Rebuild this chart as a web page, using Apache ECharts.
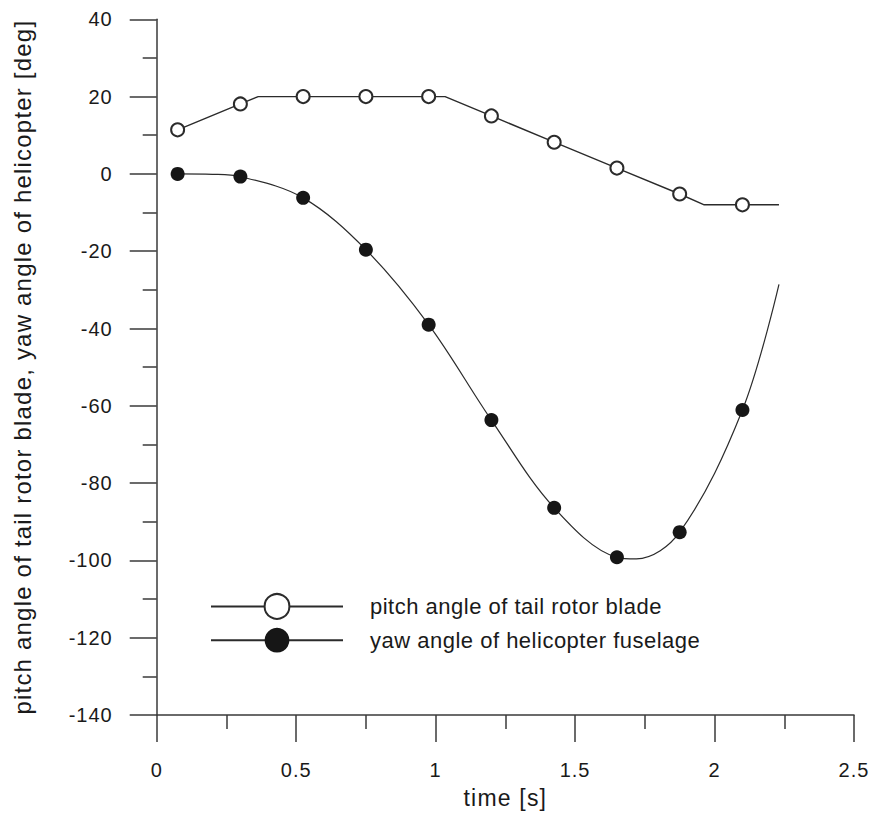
<!DOCTYPE html>
<html>
<head>
<meta charset="utf-8">
<script src="https://cdn.jsdelivr.net/npm/echarts@6/dist/echarts.min.js"></script>
<style>
  html, body { margin: 0; padding: 0; background: #fff; }
  #chart { width: 872px; height: 814px; }
</style>
</head>
<body>
<div id="chart"></div>
<script>
// Sample times where the markers sit [s]
const markerTimes = [0.075, 0.3, 0.525, 0.75, 0.975, 1.2, 1.425, 1.65, 1.875, 2.1];

// Pitch angle of tail rotor blade [deg] at the marker times
const pitchMarkers = [11.4, 18.1, 20, 20, 20, 15, 8.2, 1.5, -5.2, -8];
// Corner points of the piecewise-linear pitch schedule (no marker drawn)
const pitchKnotTimes = [0.364, 1.034, 1.963, 2.231];
const pitchKnotValues = [20, 20, -8, -8];

// Yaw angle of helicopter fuselage [deg] at the marker times
const yawMarkers = [0, -0.7, -6.2, -19.6, -39, -63.7, -86.4, -99.2, -92.7, -61.1];
// Extra points along the yaw curve (no marker drawn)
const yawCurveTimes = [0.2, 1.72, 2.231];
const yawCurveValues = [-0.1, -99.6, -28.6];

// Axis ticks
const xTicks = [0, 0.5, 1, 1.5, 2, 2.5];
const yTicks = [-140, -120, -100, -80, -60, -40, -20, 0, 20, 40];

const FONT = '"Liberation Sans", Arial, Helvetica, sans-serif';
const INK = '#2b2b2b';

// Font sizes per text role, with the letter spacing each one is set in
const SIZE_TICK = 20, SIZE_LEGEND = 22, SIZE_XNAME = 23, SIZE_YNAME = 24;
const SPACING = { 20: 1, 22: 0.5, 23: 1.2, 24: 1.2 };

function buildLine(times, values, extraTimes, extraValues) {
  const pts = [];
  times.forEach((t, i) => pts.push({ value: [t, values[i]] }));
  extraTimes.forEach((t, i) => pts.push({ value: [t, extraValues[i]], symbol: 'none' }));
  pts.sort((a, b) => a.value[0] - b.value[0]);
  return pts;
}

const axisCommon = {
  axisLine: { show: true, onZero: false, lineStyle: { color: '#3a3a3a', width: 1.5 } },
  axisTick: { show: true, inside: false, length: 27, lineStyle: { color: '#3a3a3a', width: 1.5 } },
  minorTick: { show: true, splitNumber: 2, length: 14, lineStyle: { color: '#3a3a3a', width: 1.5 } },
  splitLine: { show: false },
  minorSplitLine: { show: false },
  axisLabel: { color: '#1a1a1a', fontFamily: FONT, fontSize: SIZE_TICK }
};

const chart = echarts.init(document.getElementById('chart'), null, { renderer: 'svg' });
chart.setOption({
  animation: false,
  backgroundColor: '#ffffff',
  grid: { left: 156.7, right: 18, top: 19.3, bottom: 97.3, containLabel: false },
  legend: {
    orient: 'vertical',
    left: 210,
    top: 593,
    padding: 0,
    itemWidth: 132,
    itemHeight: 31,
    itemGap: 8,
    textStyle: { color: '#1a1a1a', fontFamily: FONT, fontSize: SIZE_LEGEND, padding: [0, 0, 0, 22] },
    data: ['pitch angle of tail rotor blade', 'yaw angle of helicopter fuselage']
  },
  xAxis: Object.assign({}, axisCommon, {
    type: 'value',
    min: xTicks[0],
    max: xTicks[xTicks.length - 1],
    interval: 0.5,
    name: 'time [s]',
    nameLocation: 'middle',
    nameGap: 71,
    nameTextStyle: { color: '#1a1a1a', fontFamily: FONT, fontSize: SIZE_XNAME },
    axisLabel: Object.assign({}, axisCommon.axisLabel, { margin: 45, formatter: v => String(v) })
  }),
  yAxis: Object.assign({}, axisCommon, {
    type: 'value',
    min: yTicks[0],
    max: yTicks[yTicks.length - 1],
    interval: 20,
    name: 'pitch angle of tail rotor blade, yaw angle of helicopter [deg]',
    nameLocation: 'middle',
    nameGap: 122,
    nameTextStyle: { color: '#1a1a1a', fontFamily: FONT, fontSize: SIZE_YNAME },
    axisLabel: Object.assign({}, axisCommon.axisLabel, { margin: 44 })
  }),
  series: [
    {
      name: 'pitch angle of tail rotor blade',
      type: 'line',
      data: buildLine(markerTimes, pitchMarkers, pitchKnotTimes, pitchKnotValues),
      symbol: 'emptyCircle',
      symbolSize: 13,
      showAllSymbol: true,
      lineStyle: { color: INK, width: 1.4 },
      itemStyle: { color: INK, borderColor: INK, borderWidth: 1.5 },
      z: 3
    },
    {
      name: 'yaw angle of helicopter fuselage',
      type: 'line',
      smooth: 0.35,
      data: buildLine(markerTimes, yawMarkers, yawCurveTimes, yawCurveValues),
      symbol: 'circle',
      symbolSize: 14,
      showAllSymbol: true,
      lineStyle: { color: INK, width: 1.2 },
      itemStyle: { color: '#161616' },
      z: 3
    }
  ]
});

// Loosen the tracking of each text run according to its size
function applySpacing() {
  document.querySelectorAll('#chart svg text').forEach(el => {
    const px = Math.round(parseFloat(getComputedStyle(el).fontSize));
    if (SPACING[px] !== undefined) el.style.letterSpacing = SPACING[px] + 'px';
  });
}
applySpacing();
requestAnimationFrame(applySpacing);
setTimeout(applySpacing, 50);
</script>
</body>
</html>
